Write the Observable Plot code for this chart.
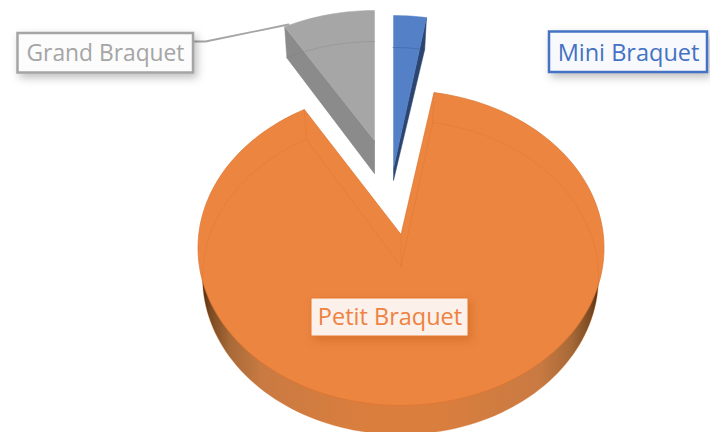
<!DOCTYPE html>
<html><head><meta charset="utf-8">
<script src="https://cdn.jsdelivr.net/npm/d3@7"></script>
<script src="https://cdn.jsdelivr.net/npm/@observablehq/plot@0.6"></script>
<style>html,body{margin:0;padding:0;background:#fff;overflow:hidden}svg{display:block}</style>
</head><body><div id="chart"></div>
<script>
// Data (share of the pie, percent)
const categories = ["Mini Braquet", "Petit Braquet", "Grand Braquet"];
const shares = [2.6, 89.5, 7.3];

// Projection of the exploded 3-D pie (screen units of the x/y scales)
const RX = 203, RY = 157.5, LOWER_RX = 198, LOWER_RY = 157;
const view = {
  "Mini Braquet":  {cx: 393,   cy: 172.5, apexTop: 168, apexLow: 180, depth: 31.5, lowShiftX: -1},
  "Petit Braquet": {cx: 400.5, cy: 247.5, apexTop: 234, apexLow: 266, depth: 29.5, lowShiftX: -0.5},
  "Grand Braquet": {cx: 374,   cy: 167.5, apexTop: 140, apexLow: 173, depth: 30.5, lowShiftX: 0}
};
const turn = 360 / 100;
const spans = {
  "Mini Braquet": [0, shares[0] * turn],
  "Petit Braquet": [shares[0] * turn, (shares[0] + shares[1]) * turn],
  "Grand Braquet": [360 - shares[2] * turn, 360]
};
const rad = d => d * Math.PI / 180;
function arc(c, rx, ry, dy, dx = 0) {
  const v = view[c], [a, b] = spans[c], n = Math.max(8, Math.round((b - a) / 2)), out = [];
  for (let i = 0; i <= n; i++) {
    const t = rad(a + (b - a) * i / n);
    out.push({x: v.cx + dx + rx * Math.sin(t), y: v.cy + dy - ry * Math.cos(t)});
  }
  return out;
}
const topFace = c => [{x: view[c].cx, y: view[c].apexTop}, ...arc(c, RX, RY, 0)];
const lowFace = c => [{x: view[c].cx, y: view[c].apexLow}, ...arc(c, LOWER_RX, LOWER_RY, view[c].depth, view[c].lowShiftX)];
const wall = (c, side) => {
  const t = topFace(c), l = lowFace(c);
  const i = side === "start" ? 1 : t.length - 1;
  return [t[0], t[i], l[i], l[0]];
};
const closed = p => [...p, p[0]];

const orangeTop = "#eb8540", blueTop = "#5480c8", greyTop = "#a6a6a6";
const common = {x: "x", y: "y"};
const poly = (pts, fill, o = {}) => Plot.line(closed(pts), {...common, fill, stroke: fill, strokeWidth: 0.5, curve: "linear", ...o});
const trace = (pts, stroke, opacity, w = 0.8) => Plot.line(pts, {...common, stroke, strokeOpacity: opacity, strokeWidth: w, curve: "linear"});

const shadow = "drop-shadow(3px 4px 4px rgba(0,0,0,0.25))";
const labelBoxes = [
  {name: "Grand Braquet", x1: 17.5, x2: 193, y1: 33, y2: 72.5, fill: "#fcfcfc", stroke: "#a5a5a5", strokeW: 2.5, ink: "#a5a5a5", tx: 105, ty: 53, size: 22.8, filter: shadow},
  {name: "Mini Braquet", x1: 549, x2: 707, y1: 31.5, y2: 72, fill: "#f8f9fd", stroke: "#4472c4", strokeW: 2.5, ink: "#4472c4", tx: 628, ty: 52.5, size: 23.5, filter: shadow},
  {name: "Petit Braquet", x1: 311, x2: 468, y1: 298, y2: 336, fill: "#fbf0ea", stroke: "#e87a30", strokeW: 1, ink: "#ee8240", tx: 389.5, ty: 317, size: 23.5, filter: "drop-shadow(3px 4px 4px rgba(190,90,20,0.4))"}
];
const leader = [{x: 193, y: 41}, {x: 205, y: 41}, {x: 288, y: 24}];

const chart = Plot.plot({
  width: 710, height: 432, margin: 0,
  x: {domain: [0, 710], range: [0, 710], axis: null},
  y: {domain: [0, 432], range: [0, 432], axis: null},
  style: {background: "#fff"},
  marks: [
    // Grand Braquet
    poly(wall("Grand Braquet", "start"), "#8b8b8b"),
    poly(topFace("Grand Braquet"), greyTop),
    trace(arc("Grand Braquet", LOWER_RX, LOWER_RY, view["Grand Braquet"].depth, 0), "#777", 0.35),
    trace([topFace("Grand Braquet")[0], {x: view["Grand Braquet"].cx, y: view["Grand Braquet"].apexLow}], "#777", 0.3),
    trace([wall("Grand Braquet", "start")[3], wall("Grand Braquet", "start")[2]], "#777", 0.4),
    // Mini Braquet
    poly(wall("Mini Braquet", "end"), "#2b4570"),
    poly(topFace("Mini Braquet"), blueTop),
    trace(arc("Mini Braquet", LOWER_RX, LOWER_RY, view["Mini Braquet"].depth, -1), "#2b4570", 0.35),
    // Petit Braquet
    poly(lowFace("Petit Braquet"), "url(#petit-side)", {stroke: "none"}),
    poly(topFace("Petit Braquet"), orangeTop, {stroke: "#dd742f", strokeWidth: 0.7}),
    trace(closed(lowFace("Petit Braquet")), "#d9702a", 0.4),
    trace([topFace("Petit Braquet")[0], lowFace("Petit Braquet")[0]], "#d9702a", 0.4),
    trace([topFace("Petit Braquet")[1], lowFace("Petit Braquet")[1]], "#d9702a", 0.4),
    trace([topFace("Petit Braquet").at(-1), lowFace("Petit Braquet").at(-1)], "#d9702a", 0.4),
    // Labels
    Plot.line(leader, {...common, stroke: "#a5a5a5", strokeWidth: 1.8, curve: "linear"}),
    ...labelBoxes.map(b => Plot.rect([b], {x1: "x1", x2: "x2", y1: "y1", y2: "y2", fill: "fill", stroke: "stroke", strokeWidth: b.strokeW, imageFilter: b.filter})),
    ...labelBoxes.map(b => Plot.text([b], {x: "tx", y: "ty", text: "name", fill: b.ink, fontSize: b.size, fontFamily: "'Open Sans', sans-serif", textAnchor: "middle", lineAnchor: "middle"}))
  ]
});
const px = chart.scale("x");
const stops = [[0, "#4f2c10"], [0.02, "#7a4a22"], [0.07, "#a86a38"], [0.15, "#c97a42"], [0.4, "#da7e3e"], [0.6, "#da7e3e"], [0.85, "#c97a42"], [0.93, "#a86a38"], [0.98, "#7a4a22"], [1, "#4f2c10"]];
const defs = d3.select(chart).insert("defs", ":first-child");
const g = defs.append("linearGradient").attr("id", "petit-side").attr("gradientUnits", "userSpaceOnUse")
  .attr("x1", px.apply(202)).attr("x2", px.apply(598)).attr("y1", 0).attr("y2", 0);
stops.forEach(([o, c]) => g.append("stop").attr("offset", o).attr("stop-color", c));
document.getElementById("chart").append(chart);
</script></body></html>
